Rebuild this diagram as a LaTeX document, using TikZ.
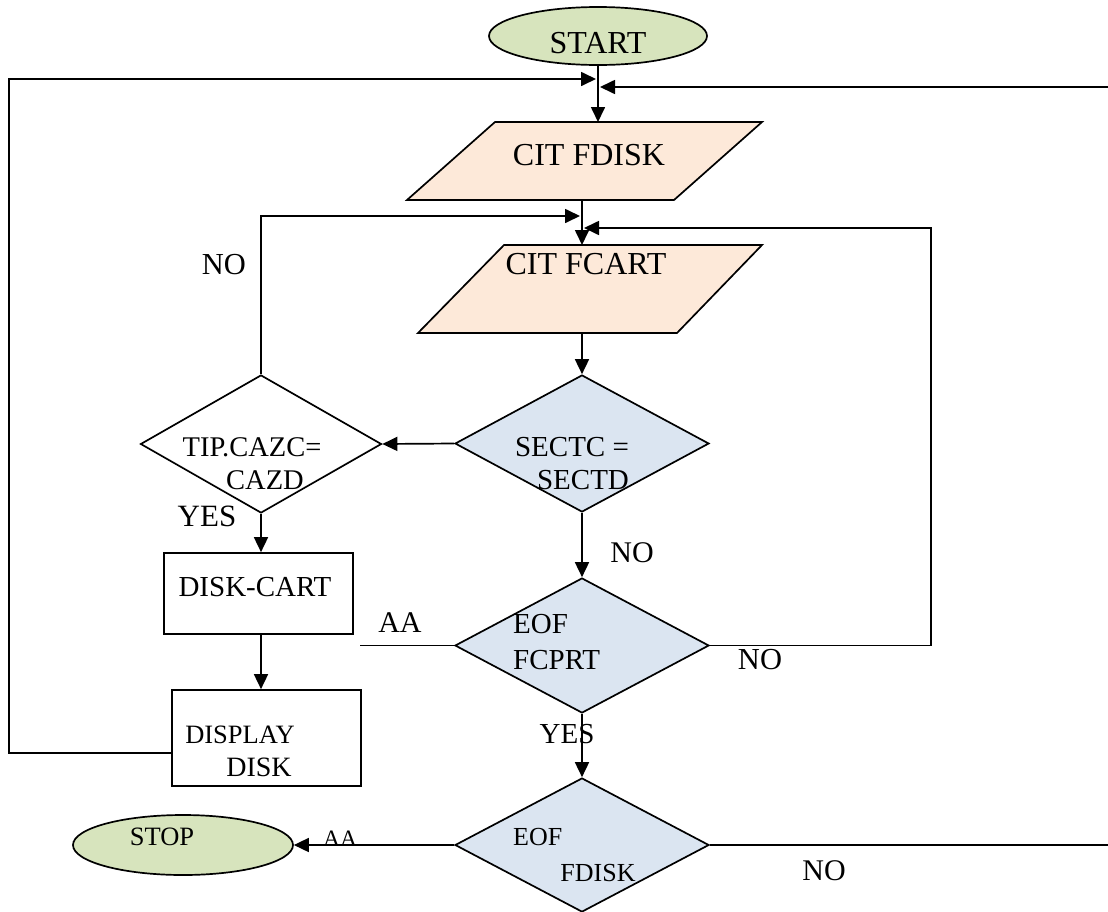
\documentclass[tikz,border=0pt]{standalone}
\usepackage{fontspec}
\setmainfont{Liberation Serif}
\usetikzlibrary{arrows.meta,shapes.geometric}
\definecolor{termfill}{HTML}{D7E4BD}
\definecolor{iofill}{HTML}{FDE9D9}
\definecolor{decfill}{HTML}{DBE5F1}
\newcommand{\myfs}[1]{\fontsize{#1}{#1}\selectfont}
\tikzset{
  ln/.style={line width=1.7pt, line join=miter},
  arr/.style={ln, -{Triangle[length=15pt,width=14pt]}},
  term/.style={ellipse, draw, line width=1.7pt, fill=termfill, inner sep=0pt},
  dec/.style={diamond, draw, line width=1.7pt, fill=decfill, inner sep=0pt},
  proc/.style={rectangle, draw, line width=1.7pt, fill=white, inner sep=0pt},
  iobox/.style={draw, line width=1.7pt, fill=iofill},
  lbl/.style={inner sep=0pt, font=\myfs{#1}},
}
\begin{document}
\begin{tikzpicture}[x=1pt,y=-1pt]
\useasboundingbox (0,0) rectangle (1108,911);
\clip (0,0) rectangle (1108,911);
\fill[white] (0,0) rectangle (1108,911);

% shapes
\node[term, minimum width=218pt, minimum height=58pt] (start) at (598,36) {};
\draw[iobox] (495,122) -- (762,122) -- (674,200) -- (407,200) -- cycle;
\draw[iobox] (504,245) -- (762,245) -- (677,333) -- (418,333) -- cycle;
\coordinate (fdiskT) at (598,122);
\coordinate (fdiskB) at (582,200);
\coordinate (cartT) at (582,245);
\coordinate (cartB) at (582,333);
\node[dec, minimum width=254pt, minimum height=137pt] (sectc) at (582,443.5) {};
\node[dec, minimum width=241pt, minimum height=138pt, fill=white] (tip) at (261,444) {};
\node[proc, minimum width=189pt, minimum height=81pt] (dcart) at (258.5,593.5) {};
\node[proc, minimum width=189pt, minimum height=96pt] (disp) at (266.5,738) {};
\node[dec, minimum width=254pt, minimum height=135pt] (eofa) at (582,645.5) {};
\node[dec, minimum width=254pt, minimum height=134pt] (eofb) at (582,845) {};
\node[term, minimum width=220pt, minimum height=60pt] (stop) at (183,845) {};

% junction and corner coordinates
\coordinate (jaL) at (596,79);
\coordinate (jaR) at (600,87);
\coordinate (jbL) at (580,216);
\coordinate (jbR) at (584,228);
\coordinate (dispL) at (172,753);
\coordinate (lc1) at (9,753);
\coordinate (lc2) at (9,79);
\coordinate (rc1) at (1115,845);
\coordinate (rc2) at (1115,87);
\coordinate (rc3) at (931,228);
\coordinate (aaL) at (360,645.5);

% connectors
\draw[arr] (start.south) -- (fdiskT);
\draw[arr] (dispL) -- (lc1) -- (lc2) -- (jaL);
\draw[arr] (eofb.east) -- (rc1) -- (rc2) -- (jaR);
\draw[arr] (fdiskB) -- (cartT);
\draw[arr] (tip.north) |- (jbL);
\draw[arr] (eofa.east) -| (rc3) -- (jbR);
\draw[arr] (cartB) -- (sectc.north);
\draw[arr] (sectc.west) -- (tip.east);
\draw[arr] (tip.south) -- (tip.south |- dcart.north);
\draw[arr] (tip.south |- dcart.south) -- (tip.south |- disp.north);
\draw[ln] (eofa.west) -- (aaL);
\draw[arr] (sectc.south) -- (eofa.north);
\draw[arr] (eofa.south) -- (eofb.north);
\draw[arr] (eofb.west) -- (stop.east);

% texts
\node[lbl=32] (tstart) at (598,43) {START};
\node[lbl=32] (tfdisk) at (589,155) {CIT FDISK};
\node[lbl=32] (tfcart) at (586,264) {CIT FCART};
\node[lbl=29] (tsecta) at (572,447) {SECTC =};
\node[lbl=29] (tsectb) at (583,480) {SECTD};
\node[lbl=28.5] (ttipa) at (252,447) {TIP.CAZC=};
\node[lbl=28.5] (ttipb) at (265,480) {CAZD};
\node[lbl=30.5] (tnoa) at (224,265) {NO};
\node[lbl=31] (tyesa) at (207,516) {YES};
\node[lbl=29] (tdcart) at (255,587) {DISK-CART};
\node[lbl=26.5] (tdispa) at (240,735) {DISPLAY};
\node[lbl=28] (tdispb) at (259,767) {DISK};
\node[lbl=30] (taaa) at (400,623) {AA};
\node[lbl=30] (tnob) at (632,553) {NO};
\node[lbl=29, anchor=west] (teofa) at (513,624) {EOF};
\node[lbl=29, anchor=west] (teofb) at (513,660) {FCPRT};
\node[lbl=30.5] (tnoc) at (760,660) {NO};
\node[lbl=29] (tyesb) at (567,734) {YES};
\node[lbl=26, anchor=west] (teofc) at (513,837) {EOF};
\node[lbl=26] (teofd) at (598,873) {FDISK};
\node[lbl=26.5] (tstop) at (162,837) {STOP};
\node[lbl=23.5] (taab) at (340,839) {AA};
\node[lbl=30] (tnod) at (824,871) {NO};
\end{tikzpicture}
\end{document}
